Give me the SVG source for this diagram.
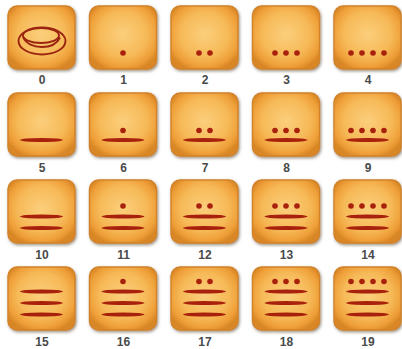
<svg xmlns="http://www.w3.org/2000/svg" xmlns:xlink="http://www.w3.org/1999/xlink" width="402" height="349" viewBox="0 0 402 349">
<style>
.lbl{font-family:"Liberation Sans",Arial,sans-serif;font-size:12px;font-weight:bold;fill:#4a4a4a;text-anchor:middle}
.glyph{fill:#a8210d}
.shell{fill:none;stroke:#9a2410;stroke-width:1.9}
</style>
<defs>
<radialGradient id="tg" cx="0.5" cy="0.45" r="0.6">
<stop offset="0" stop-color="#fccf7c"/>
<stop offset="0.6" stop-color="#f6b957"/>
<stop offset="0.86" stop-color="#ef9f38"/>
<stop offset="1" stop-color="#d98726"/>
</radialGradient>
<filter id="sh" x="-20%" y="-20%" width="140%" height="140%">
<feDropShadow dx="1" dy="1.5" stdDeviation="1.8" flood-color="#5a4630" flood-opacity="0.6"/>
</filter>
<rect id="tile" x="0" y="0" width="67" height="63" rx="9" fill="url(#tg)" stroke="#d2832a" stroke-width="1.4" filter="url(#sh)"/>
<path id="bar" d="M-21.5,0 Q-20,-1.9 0,-2 Q20,-1.9 21.5,0 Q20,1.9 0,2 Q-20,1.9 -21.5,0Z"/>
<circle id="dot" cx="0" cy="0" r="2.8"/>
</defs>
<rect width="402" height="349" fill="#ffffff"/>

<!-- row 0 -->
<g id="n0"><use href="#tile" x="8" y="6"/>
<g class="shell"><ellipse cx="42" cy="41" rx="23.5" ry="13.5"/><ellipse cx="41" cy="35.5" rx="18" ry="7.5"/><path d="M23,37 C26,44 34,47 41.5,47 C50,47 57,44 60,37.5"/></g>
<text class="lbl" x="42" y="84">0</text></g>
<g id="n1" class="glyph"><use href="#tile" x="89.5" y="6"/><use href="#dot" x="123" y="53"/><text class="lbl" x="123.5" y="84">1</text></g>
<g id="n2" class="glyph"><use href="#tile" x="171" y="6"/><use href="#dot" x="199" y="53"/><use href="#dot" x="210" y="53"/><text class="lbl" x="205" y="84">2</text></g>
<g id="n3" class="glyph"><use href="#tile" x="252.5" y="6"/><use href="#dot" x="275" y="53"/><use href="#dot" x="286" y="53"/><use href="#dot" x="297" y="53"/><text class="lbl" x="286.5" y="84">3</text></g>
<g id="n4" class="glyph"><use href="#tile" x="334" y="6"/><use href="#dot" x="351" y="53"/><use href="#dot" x="362" y="53"/><use href="#dot" x="373" y="53"/><use href="#dot" x="384" y="53"/><text class="lbl" x="368" y="84">4</text></g>

<!-- row 1 -->
<g id="n5" class="glyph"><use href="#tile" x="8" y="93"/><use href="#bar" x="41.5" y="140"/><text class="lbl" x="42" y="171.5">5</text></g>
<g id="n6" class="glyph"><use href="#tile" x="89.5" y="93"/><use href="#bar" x="123" y="140"/><use href="#dot" x="123" y="130.5"/><text class="lbl" x="123.5" y="171.5">6</text></g>
<g id="n7" class="glyph"><use href="#tile" x="171" y="93"/><use href="#bar" x="204.5" y="140"/><use href="#dot" x="199" y="130.5"/><use href="#dot" x="210" y="130.5"/><text class="lbl" x="205" y="171.5">7</text></g>
<g id="n8" class="glyph"><use href="#tile" x="252.5" y="93"/><use href="#bar" x="286" y="140"/><use href="#dot" x="275" y="130.5"/><use href="#dot" x="286" y="130.5"/><use href="#dot" x="297" y="130.5"/><text class="lbl" x="286.5" y="171.5">8</text></g>
<g id="n9" class="glyph"><use href="#tile" x="334" y="93"/><use href="#bar" x="367.5" y="140"/><use href="#dot" x="351" y="130.5"/><use href="#dot" x="362" y="130.5"/><use href="#dot" x="373" y="130.5"/><use href="#dot" x="384" y="130.5"/><text class="lbl" x="368" y="171.5">9</text></g>

<!-- row 2 -->
<g id="n10" class="glyph"><use href="#tile" x="8" y="180"/><use href="#bar" x="41.5" y="228"/><use href="#bar" x="41.5" y="216.5"/><text class="lbl" x="42" y="259">10</text></g>
<g id="n11" class="glyph"><use href="#tile" x="89.5" y="180"/><use href="#bar" x="123" y="228"/><use href="#bar" x="123" y="216.5"/><use href="#dot" x="123" y="206"/><text class="lbl" x="123.5" y="259">11</text></g>
<g id="n12" class="glyph"><use href="#tile" x="171" y="180"/><use href="#bar" x="204.5" y="228"/><use href="#bar" x="204.5" y="216.5"/><use href="#dot" x="199" y="206"/><use href="#dot" x="210" y="206"/><text class="lbl" x="205" y="259">12</text></g>
<g id="n13" class="glyph"><use href="#tile" x="252.5" y="180"/><use href="#bar" x="286" y="228"/><use href="#bar" x="286" y="216.5"/><use href="#dot" x="275" y="206"/><use href="#dot" x="286" y="206"/><use href="#dot" x="297" y="206"/><text class="lbl" x="286.5" y="259">13</text></g>
<g id="n14" class="glyph"><use href="#tile" x="334" y="180"/><use href="#bar" x="367.5" y="228"/><use href="#bar" x="367.5" y="216.5"/><use href="#dot" x="351" y="206"/><use href="#dot" x="362" y="206"/><use href="#dot" x="373" y="206"/><use href="#dot" x="384" y="206"/><text class="lbl" x="368" y="259">14</text></g>

<!-- row 3 -->
<g id="n15" class="glyph"><use href="#tile" x="8" y="267"/><use href="#bar" x="41.5" y="314.5"/><use href="#bar" x="41.5" y="303"/><use href="#bar" x="41.5" y="291.5"/><text class="lbl" x="42" y="346">15</text></g>
<g id="n16" class="glyph"><use href="#tile" x="89.5" y="267"/><use href="#bar" x="123" y="314.5"/><use href="#bar" x="123" y="303"/><use href="#bar" x="123" y="291.5"/><use href="#dot" x="123" y="281.5"/><text class="lbl" x="123.5" y="346">16</text></g>
<g id="n17" class="glyph"><use href="#tile" x="171" y="267"/><use href="#bar" x="204.5" y="314.5"/><use href="#bar" x="204.5" y="303"/><use href="#bar" x="204.5" y="291.5"/><use href="#dot" x="199" y="281.5"/><use href="#dot" x="210" y="281.5"/><text class="lbl" x="205" y="346">17</text></g>
<g id="n18" class="glyph"><use href="#tile" x="252.5" y="267"/><use href="#bar" x="286" y="314.5"/><use href="#bar" x="286" y="303"/><use href="#bar" x="286" y="291.5"/><use href="#dot" x="275" y="281.5"/><use href="#dot" x="286" y="281.5"/><use href="#dot" x="297" y="281.5"/><text class="lbl" x="286.5" y="346">18</text></g>
<g id="n19" class="glyph"><use href="#tile" x="334" y="267"/><use href="#bar" x="367.5" y="314.5"/><use href="#bar" x="367.5" y="303"/><use href="#bar" x="367.5" y="291.5"/><use href="#dot" x="351" y="281.5"/><use href="#dot" x="362" y="281.5"/><use href="#dot" x="373" y="281.5"/><use href="#dot" x="384" y="281.5"/><text class="lbl" x="368" y="346">19</text></g>
</svg>
